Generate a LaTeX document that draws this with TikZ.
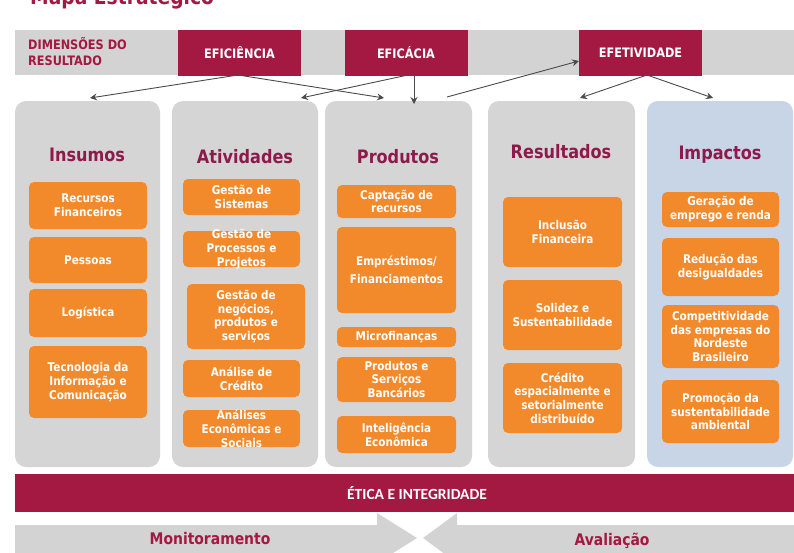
\documentclass[tikz,border=0pt]{standalone}
\usepackage{fontspec}
\setmainfont{DejaVu Sans}[FakeStretch=0.87]
\newfontfamily\carl{Carlito}
\usetikzlibrary{arrows.meta}
\definecolor{crim}{HTML}{A31942}
\definecolor{hdr}{HTML}{8E1A4C}
\definecolor{lgray}{HTML}{D3D3D3}
\definecolor{colgray}{HTML}{D5D5D5}
\definecolor{lblue}{HTML}{C8D5E7}
\definecolor{orng}{HTML}{F28A2C}
\definecolor{arrc}{HTML}{4A4A4A}
\newcommand\orangebox[6]{%
  \node[obox,minimum width=#4pt,minimum height=#5pt] (#1) at (#2,#3) {};
  \node[btext] (#1t) at (#1) {#6};}
\begin{document}
\begin{tikzpicture}[x=1pt,y=-1pt,
 colbox/.style={rounded corners=11pt, draw=none, inner sep=0pt},
 obox/.style={fill=orng, rounded corners=5pt, inner sep=0pt},
 btext/.style={text=white, font=\bfseries\fontsize{12}{13.8}\selectfont, align=center, inner sep=0pt},
 colhead/.style={text=hdr, font=\bfseries\fontsize{18.5}{18.5}\selectfont, inner sep=0pt},
 dimbox/.style={fill=crim, minimum width=123pt, minimum height=46pt, text=white, font=\bfseries\fontsize{13}{15}\selectfont, inner sep=0pt},
 conn/.style={draw=arrc, line width=0.9pt, -{Stealth[length=7pt,width=7pt,inset=2.5pt]}},
 bottomtext/.style={text=crim, font=\bfseries\fontsize{16}{16}\selectfont, inner sep=0pt},
]
\useasboundingbox (0,0) rectangle (794,552);
\fill[white] (0,0) rectangle (794,552);

% title (cut at top)
\node[anchor=base west, text=crim, font=\bfseries\fontsize{21.5}{21.5}\selectfont, inner sep=0pt] (title) at (30,4) {Mapa Estratégico};

% header band
\fill[lgray] (15,30) rectangle (794,75);
\node[anchor=west, text=crim, font=\bfseries\fontsize{13}{16.5}\selectfont, align=left, inner sep=0pt] (dim) at (28,51.5) {DIMENSÕES DO\\RESULTADO};
\node[dimbox] (efi) at (239.5,52.5) {EFICIÊNCIA};
\node[dimbox] (efc) at (406,52.5) {EFICÁCIA};
\node[dimbox] (efe) at (640.5,52.5) {EFETIVIDADE};

% columns
\node[colbox, fill=colgray, minimum width=145pt, minimum height=366pt] (cins) at (87.5,284) {};
\node[colbox, fill=colgray, minimum width=146pt, minimum height=366pt] (catv) at (245,284) {};
\node[colbox, fill=colgray, minimum width=147pt, minimum height=366pt] (cprd) at (398.5,284) {};
\node[colbox, fill=colgray, minimum width=147pt, minimum height=366pt] (cres) at (561.5,284) {};
\node[colbox, fill=lblue, minimum width=146pt, minimum height=366pt] (cimp) at (720,284) {};

\node[colhead] (hins) at (87,155) {Insumos};
\node[colhead] (hatv) at (245,157) {Atividades};
\node[colhead] (hprd) at (398,157) {Produtos};
\node[colhead] (hres) at (561,152) {Resultados};
\node[colhead] (himp) at (720,155) {Impactos};

% Insumos
\orangebox{i1}{88}{205.5}{118}{47}{Recursos\\Financeiros}
\orangebox{i2}{88}{260}{118}{46}{Pessoas}
\orangebox{i3}{88}{313}{118}{48}{Logística}
\orangebox{i4}{88}{382}{118}{72}{Tecnologia da\\Informação e\\Comunicação}

% Atividades
\orangebox{a1}{241.5}{197}{117}{36}{Gestão de\\Sistemas}
\orangebox{a2}{241.5}{249}{117}{36}{Gestão de\\Processos e\\Projetos}
\orangebox{a3}{246}{316.5}{118}{65}{Gestão de\\negócios,\\produtos e\\serviços}
\orangebox{a4}{241.5}{378.5}{117}{37}{Análise de\\Crédito}
\orangebox{a5}{241.5}{428.5}{117}{37}{Análises\\Econômicas e\\Sociais}

% Produtos
\orangebox{p1}{396.5}{201.5}{119}{33}{Captação de\\recursos}
\orangebox{p2}{396.5}{270}{119}{86}{Empréstimos/\\[4pt]Financiamentos}
\orangebox{p3}{396.5}{337}{119}{20}{Microfinanças}
\orangebox{p4}{396.5}{379.5}{119}{45}{Produtos e\\Serviços\\Bancários}
\orangebox{p5}{396.5}{434.5}{119}{37}{Inteligência\\Econômica}

% Resultados
\orangebox{r1}{562.5}{232}{119}{70}{Inclusão\\Financeira}
\orangebox{r2}{562.5}{315}{119}{70}{Solidez e\\Sustentabilidade}
\orangebox{r3}{562.5}{398}{119}{70}{Crédito\\espacialmente e\\setorialmente\\distribuído}

% Impactos
\orangebox{m1}{720.5}{209.5}{117}{35}{Geração de\\emprego e renda}
\orangebox{m2}{720.5}{267}{117}{58}{Redução das\\desigualdades}
\orangebox{m3}{720.5}{336.5}{117}{63}{Competitividade\\das empresas do\\Nordeste\\Brasileiro}
\orangebox{m4}{720.5}{411.5}{117}{63}{Promoção da\\sustentabilidade\\ambiental}

% connectors
\coordinate (efiS) at (238,75);
\coordinate (efcS1) at (408,75);
\coordinate (efcS2) at (414,75);
\coordinate (efeS) at (647,75);
\coordinate (efeW) at (579,61);
\coordinate (t1) at (90,98);
\coordinate (t2) at (384,98);
\coordinate (t3) at (301,98);
\coordinate (t4) at (414,104);
\coordinate (s5) at (447,97);
\coordinate (t6) at (580,98);
\coordinate (t7) at (713,98);
\draw[conn] (efiS) -- (t1);
\draw[conn] (efiS) -- (t2);
\draw[conn] (efcS1) -- (t3);
\draw[conn] (efcS2) -- (t4);
\draw[conn] (s5) -- (efeW);
\draw[conn] (efeS) -- (t6);
\draw[conn] (efeS) -- (t7);

% ethics bar
\node[fill=crim, minimum width=779pt, minimum height=38pt, inner sep=0pt] (etica) at (404.5,493) {};
\node[text=white, font=\carl\bfseries\fontsize{15.5}{15.5}\selectfont, inner sep=0pt] (eticat) at (417,493) {ÉTICA E INTEGRIDADE};

% bottom arrows
\fill[lgray] (15,525) -- (377,525) -- (377,513) -- (417,538) -- (377,563) -- (15,563) -- cycle;
\fill[lgray] (794,525) -- (457,525) -- (457,513) -- (423,538) -- (457,563) -- (794,563) -- cycle;
\node[bottomtext] (mon) at (210,539) {Monitoramento};
\node[bottomtext] (ava) at (612,541) {Avaliação};
\end{tikzpicture}
\end{document}
